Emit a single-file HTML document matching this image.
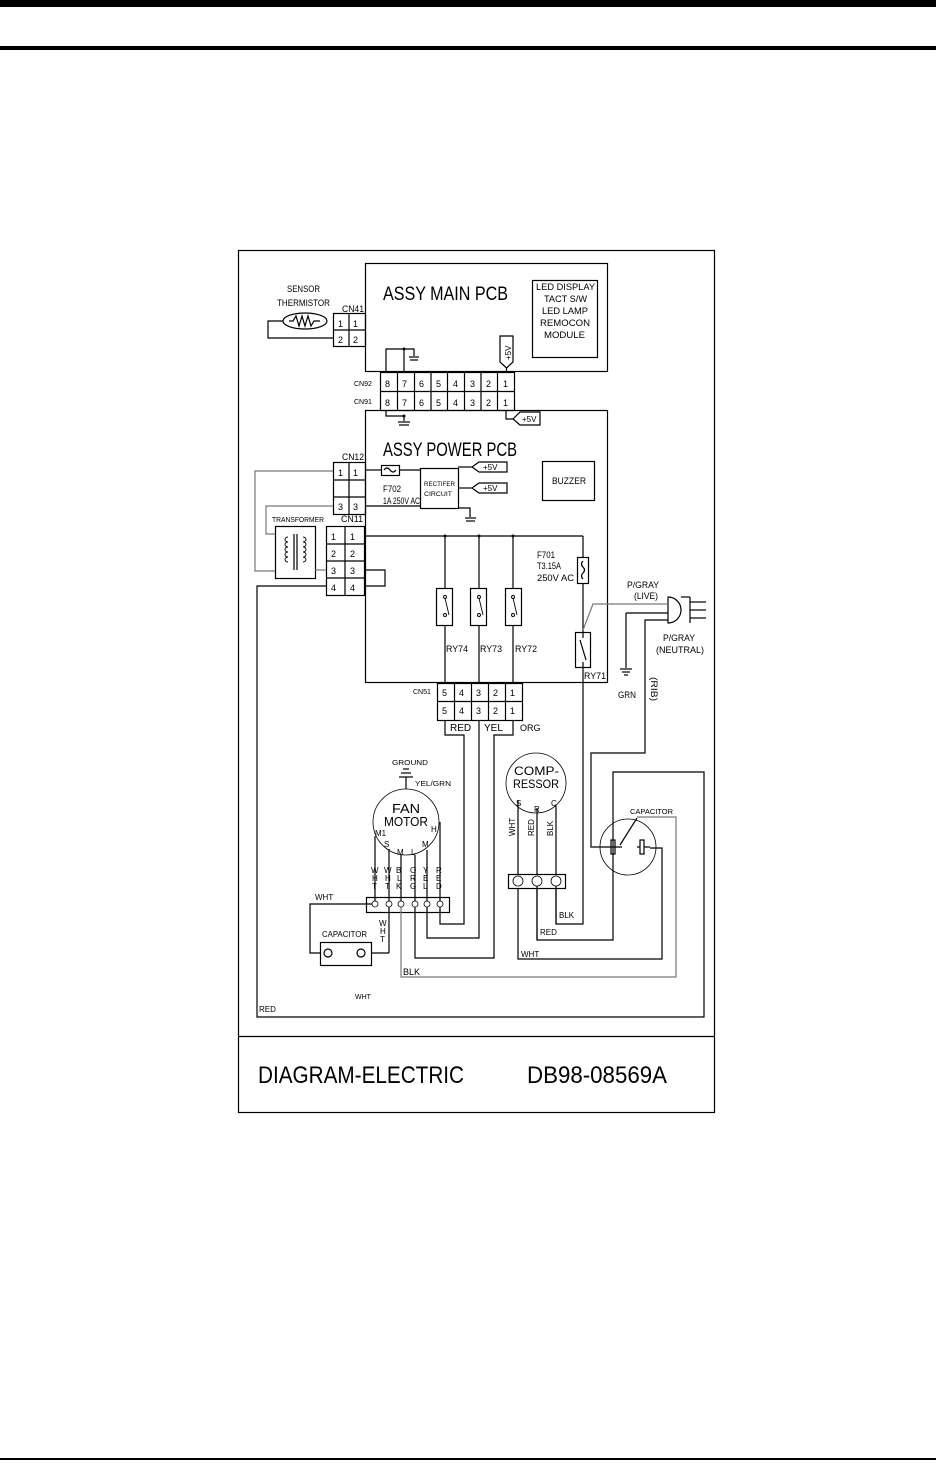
<!DOCTYPE html>
<html><head><meta charset="utf-8"><style>
html,body{margin:0;padding:0;background:#fff}
svg{display:block}
text{font-family:"Liberation Sans",sans-serif;fill:#000}
</style></head><body>
<svg width="936" height="1465" viewBox="0 0 936 1465" xmlns="http://www.w3.org/2000/svg">
<rect x="0" y="0" width="936" height="7" fill="#000"/>
<rect x="0" y="46" width="936" height="4" fill="#000"/>
<rect x="0" y="1458" width="936" height="2" fill="#000"/>

<g fill="none" stroke="#000" stroke-width="1.2">
<rect x="238.5" y="250.5" width="476" height="862"/>
<line x1="238" y1="1036.5" x2="714" y2="1036.5"/>
<rect x="365.5" y="263.5" width="242" height="108"/>
<rect x="532.5" y="280.5" width="65" height="77"/>
<rect x="333.5" y="313.5" width="32" height="33"/>
<line x1="333" y1="330" x2="365" y2="330"/><line x1="349" y1="313" x2="349" y2="346"/>
<ellipse cx="305" cy="321" rx="22" ry="8"/>
<polyline points="289,321 293,321 296,316 299,326 302,316 305,326 308,316 311,326 314,321 320,321"/>
<polyline points="283,321 268,321 268,338 333,338"/>
<polyline points="386,372 386,349 414,349 414,356"/>
<line x1="404" y1="349" x2="404" y2="372"/>
<line x1="409" y1="357" x2="419" y2="357"/><line x1="410" y1="360" x2="418" y2="360"/>
<polygon points="500,336 513,336 513,362 506.5,368 500,362"/>
<line x1="506.5" y1="368" x2="506.5" y2="372"/>
<rect x="380.5" y="372.5" width="134" height="38"/>
<line x1="380" y1="391.5" x2="514" y2="391.5"/>
<line x1="397.5" y1="372" x2="397.5" y2="411"/><line x1="414.5" y1="372" x2="414.5" y2="411"/><line x1="431" y1="372" x2="431" y2="411"/><line x1="447.5" y1="372" x2="447.5" y2="411"/><line x1="464.5" y1="372" x2="464.5" y2="411"/><line x1="481" y1="372" x2="481" y2="411"/><line x1="497.5" y1="372" x2="497.5" y2="411"/>
<rect x="365.5" y="410.5" width="242" height="272"/>
<polyline points="386,411 386,416 404,416 404,421"/>
<line x1="398" y1="422" x2="410" y2="422"/><line x1="399" y1="425" x2="409" y2="425"/>
<polyline points="506,411 506,419 513,419"/>
<polygon points="513,419 520,412 540,412 540,425 520,425"/>
<rect x="333.5" y="462.5" width="32" height="52"/>
<line x1="333" y1="480" x2="365" y2="480"/><line x1="333" y1="497" x2="365" y2="497"/><line x1="349" y1="462" x2="349" y2="515"/>
<line x1="365" y1="470" x2="381" y2="470"/>
<rect x="381.5" y="465.5" width="18" height="10"/>
<path d="M384,470 q3,-4 6,0 t6,0"/>
<line x1="400" y1="470" x2="420" y2="470"/>
<rect x="420.5" y="468.5" width="38" height="40"/>
<line x1="458" y1="467" x2="472" y2="467"/><line x1="458" y1="488" x2="472" y2="488"/>
<polygon points="472,467 479,462 507,462 507,472 479,472"/>
<polygon points="472,488 479,483 507,483 507,493 479,493"/>
<line x1="365" y1="506" x2="420" y2="506"/>
<polyline points="458,508 470,508 470,517"/>
<line x1="465" y1="518" x2="476" y2="518"/><line x1="466" y1="521" x2="475" y2="521"/>
<rect x="542.5" y="461.5" width="52" height="39"/>
<rect x="275.5" y="526.5" width="40" height="52"/>
<line x1="294" y1="534" x2="294" y2="570"/><line x1="297" y1="534" x2="297" y2="570"/>
<rect x="326.5" y="526.5" width="38" height="69"/>
<line x1="326" y1="544" x2="364" y2="544"/><line x1="326" y1="561" x2="364" y2="561"/><line x1="326" y1="578" x2="364" y2="578"/><line x1="345" y1="526" x2="345" y2="595"/>
<polyline points="364,570 385,570 385,586 364,586"/>
<polyline points="326,586 257,586 257,1017 704,1017 704,772 613,772 613,940 537,940 537,881"/>
<line x1="364" y1="536" x2="583" y2="536"/>
<line x1="583" y1="536" x2="583" y2="557"/>
<rect x="577.5" y="557.5" width="11" height="26"/>
<path d="M583,561 q-3,3 0,6 t0,6 t0,6"/>
<polyline points="583,584 583,632"/>
<rect x="575.5" y="632.5" width="15" height="35"/>
<line x1="583" y1="632" x2="583" y2="638"/><line x1="580" y1="640" x2="586" y2="660"/><line x1="583" y1="662" x2="583" y2="667"/>
<polyline points="583,667 583,924 556,924 556,881"/>
<rect x="436.5" y="588.5" width="16" height="37"/><rect x="470.5" y="588.5" width="16" height="37"/><rect x="505.5" y="588.5" width="16" height="37"/>
<line x1="445" y1="536" x2="445" y2="588"/><line x1="479" y1="536" x2="479" y2="588"/><line x1="513" y1="536" x2="513" y2="588"/>
<line x1="445" y1="625" x2="445" y2="683"/><line x1="479" y1="625" x2="479" y2="683"/><line x1="513" y1="625" x2="513" y2="683"/>
<rect x="437.5" y="683.5" width="85" height="37"/>
<line x1="437" y1="701.5" x2="522" y2="701.5"/>
<line x1="454.5" y1="683" x2="454.5" y2="720"/><line x1="471.5" y1="683" x2="471.5" y2="720"/><line x1="488.5" y1="683" x2="488.5" y2="720"/><line x1="505.5" y1="683" x2="505.5" y2="720"/>
<polyline points="445,720 445,735 464,735 464,924 440,924 440,904"/>
<polyline points="479,720 479,938 427,938 427,904"/>
<polyline points="513,720 513,735 494,735 494,958 415,958 415,904"/>
<line x1="626" y1="613" x2="668" y2="613"/>
<polyline points="626,613 626,668"/>
<line x1="620" y1="669" x2="632" y2="669"/><line x1="622" y1="672" x2="630" y2="672"/><line x1="624" y1="675" x2="628" y2="675"/>
<path d="M668,597 a13,13 0 0 1 0,26 z" />
<line x1="681" y1="597" x2="690" y2="597"/><line x1="690" y1="597" x2="690" y2="623"/>
<line x1="690" y1="602" x2="706" y2="602"/><line x1="690" y1="610" x2="706" y2="610"/><line x1="690" y1="618" x2="706" y2="618"/>
<polyline points="668,620 645,620 645,753 591,753 591,847 605,847"/>
<circle cx="406" cy="822" r="33" stroke-width="0.8"/>
<line x1="406" y1="777" x2="406" y2="789"/>
<line x1="399" y1="777" x2="413" y2="777"/><line x1="401" y1="773" x2="411" y2="773"/><line x1="403" y1="769" x2="409" y2="769"/>
<line x1="375" y1="836" x2="375" y2="904"/><line x1="389" y1="849" x2="389" y2="953"/><line x1="401" y1="855" x2="401" y2="904"/><line x1="415" y1="855" x2="415" y2="904"/><line x1="427" y1="850" x2="427" y2="904"/><line x1="440" y1="822" x2="440" y2="904"/>
<rect x="366.5" y="897.5" width="83" height="15"/>
<polyline points="375,904 310,904 310,953 320,953"/>
<rect x="320.5" y="942.5" width="51" height="23"/>
<circle cx="328" cy="953" r="4" fill="#fff"/><circle cx="361" cy="953" r="4" fill="#fff"/>
<polyline points="371,953 389,953"/>
<circle cx="536" cy="783" r="30" stroke-width="0.8"/>
<line x1="518" y1="800" x2="518" y2="874"/><line x1="537" y1="808" x2="537" y2="874"/><line x1="556" y1="806" x2="556" y2="874"/>
<rect x="508.5" y="874.5" width="57" height="14"/>
<polyline points="518,888 518,959 662,959 662,848 650,848"/>
<line x1="537" y1="888" x2="537" y2="940"/><line x1="556" y1="888" x2="556" y2="924"/>
<circle cx="628" cy="847" r="28" stroke-width="0.8"/>
<rect x="611" y="840" width="4" height="14"/><line x1="605" y1="847" x2="622" y2="847"/>
<rect x="640" y="840" width="4" height="14"/><line x1="644" y1="847" x2="650" y2="847"/><line x1="637" y1="847" x2="640" y2="847"/>
<line x1="620" y1="845" x2="637" y2="818"/>
</g>
<!-- relay contacts -->
<g fill="none" stroke="#000" stroke-width="0.9">
<circle cx="445" cy="597" r="1.5"/><circle cx="445" cy="615" r="1.5"/><line x1="445" y1="598" x2="449" y2="615"/>
<circle cx="479" cy="597" r="1.5"/><circle cx="479" cy="615" r="1.5"/><line x1="479" y1="598" x2="483" y2="615"/>
<circle cx="513" cy="597" r="1.5"/><circle cx="513" cy="615" r="1.5"/><line x1="513" y1="598" x2="517" y2="615"/>
<path d="M288,537 a3,2.5 0 1 0 0,5 a3,2.5 0 1 0 0,5 a3,2.5 0 1 0 0,5 a3,2.5 0 1 0 0,5 a3,2.5 0 1 0 0,5"/>
<path d="M303,537 a3,2.5 0 1 1 0,5 a3,2.5 0 1 1 0,5 a3,2.5 0 1 1 0,5 a3,2.5 0 1 1 0,5 a3,2.5 0 1 1 0,5"/>
</g>
<g fill="none" stroke="#777" stroke-width="1.2">
<polyline points="333,471 255,471 255,571 275,571"/>
<polyline points="333,506 266,506 266,534 275,534"/>
<line x1="315" y1="570" x2="326" y2="570"/>
<polyline points="583,630 593,604 668,604"/>
<polyline points="401,904 401,977 676,977 676,817 637,817"/>
</g>
<g fill="#000">
<circle cx="445" cy="536" r="1.5"/><circle cx="479" cy="536" r="1.5"/><circle cx="513" cy="536" r="1.5"/><circle cx="404" cy="349" r="1.5"/><circle cx="404" cy="416" r="1.5"/>
</g>
<g fill="#fff" stroke="#000" stroke-width="0.8">
<circle cx="375" cy="904" r="3"/><circle cx="389" cy="904" r="3"/><circle cx="401" cy="904" r="3"/><circle cx="415" cy="904" r="3"/><circle cx="427" cy="904" r="3"/><circle cx="440" cy="904" r="3"/>
<circle cx="518" cy="881" r="5"/><circle cx="537" cy="881" r="5"/><circle cx="556" cy="881" r="5"/>
</g>

<g font-size="9">
<text x="287" y="292" textLength="33" lengthAdjust="spacingAndGlyphs">SENSOR</text>
<text x="277" y="306" textLength="53" lengthAdjust="spacingAndGlyphs">THERMISTOR</text>
<text x="342" y="312" textLength="22" lengthAdjust="spacingAndGlyphs">CN41</text>
<text x="338" y="327">1</text><text x="353" y="327">1</text><text x="338" y="343">2</text><text x="353" y="343">2</text>
<text x="354" y="386" font-size="7">CN92</text><text x="354" y="404" font-size="7">CN91</text>
<text x="385" y="387">8</text><text x="402" y="387">7</text><text x="419" y="387">6</text><text x="436" y="387">5</text><text x="453" y="387">4</text><text x="470" y="387">3</text><text x="486" y="387">2</text><text x="503" y="387">1</text>
<text x="385" y="406">8</text><text x="402" y="406">7</text><text x="419" y="406">6</text><text x="436" y="406">5</text><text x="453" y="406">4</text><text x="470" y="406">3</text><text x="486" y="406">2</text><text x="503" y="406">1</text>
<text x="511" y="360" transform="rotate(-90 511 360)" font-size="8">+5V</text>
<text x="522" y="422" font-size="8">+5V</text>
<text x="483" y="470" font-size="8">+5V</text><text x="483" y="491" font-size="8">+5V</text>
<text x="536" y="290" textLength="59" lengthAdjust="spacingAndGlyphs">LED DISPLAY</text>
<text x="544" y="302" textLength="43" lengthAdjust="spacingAndGlyphs">TACT S/W</text>
<text x="542" y="314" textLength="46" lengthAdjust="spacingAndGlyphs">LED LAMP</text>
<text x="540" y="326" textLength="50" lengthAdjust="spacingAndGlyphs">REMOCON</text>
<text x="544" y="338" textLength="41" lengthAdjust="spacingAndGlyphs">MODULE</text>
<text x="552" y="484" textLength="34" lengthAdjust="spacingAndGlyphs">BUZZER</text>
<text x="342" y="460" textLength="22" lengthAdjust="spacingAndGlyphs">CN12</text>
<text x="338" y="476">1</text><text x="353" y="476">1</text><text x="338" y="510">3</text><text x="353" y="510">3</text>
<text x="383" y="492" textLength="18" lengthAdjust="spacingAndGlyphs">F702</text>
<text x="383" y="504" textLength="37" lengthAdjust="spacingAndGlyphs">1A 250V AC</text>
<text x="424" y="486" font-size="6.5" textLength="31" lengthAdjust="spacingAndGlyphs">RECTIFER</text>
<text x="424" y="496" font-size="6.5" textLength="28" lengthAdjust="spacingAndGlyphs">CIRCUIT</text>
<text x="272" y="522" font-size="7" textLength="52" lengthAdjust="spacingAndGlyphs">TRANSFORMER</text>
<text x="341" y="522" textLength="22" lengthAdjust="spacingAndGlyphs">CN11</text>
<text x="331" y="540">1</text><text x="350" y="540">1</text><text x="331" y="557">2</text><text x="350" y="557">2</text><text x="331" y="574">3</text><text x="350" y="574">3</text><text x="331" y="591">4</text><text x="350" y="591">4</text>
<text x="537" y="558" textLength="18" lengthAdjust="spacingAndGlyphs">F701</text>
<text x="537" y="569" textLength="24" lengthAdjust="spacingAndGlyphs">T3.15A</text>
<text x="537" y="581" textLength="37" lengthAdjust="spacingAndGlyphs">250V AC</text>
<text x="446" y="652" textLength="22" lengthAdjust="spacingAndGlyphs">RY74</text>
<text x="480" y="652" textLength="22" lengthAdjust="spacingAndGlyphs">RY73</text>
<text x="515" y="652" textLength="22" lengthAdjust="spacingAndGlyphs">RY72</text>
<text x="584" y="679" textLength="22" lengthAdjust="spacingAndGlyphs">RY71</text>
<text x="627" y="588" textLength="32" lengthAdjust="spacingAndGlyphs">P/GRAY</text>
<text x="634" y="599" textLength="24" lengthAdjust="spacingAndGlyphs">(LIVE)</text>
<text x="663" y="641" textLength="32" lengthAdjust="spacingAndGlyphs">P/GRAY</text>
<text x="656" y="653" textLength="48" lengthAdjust="spacingAndGlyphs">(NEUTRAL)</text>
<text x="618" y="698" textLength="18" lengthAdjust="spacingAndGlyphs">GRN</text>
<text x="651" y="677" transform="rotate(90 651 677)" textLength="24" lengthAdjust="spacingAndGlyphs">(RIB)</text>
<text x="413" y="694" font-size="7">CN51</text>
<text x="442" y="696">5</text><text x="459" y="696">4</text><text x="476" y="696">3</text><text x="493" y="696">2</text><text x="510" y="696">1</text>
<text x="442" y="714">5</text><text x="459" y="714">4</text><text x="476" y="714">3</text><text x="493" y="714">2</text><text x="510" y="714">1</text>
<text x="450" y="731" font-size="10">RED</text><text x="484" y="731" font-size="10">YEL</text><text x="520" y="731" font-size="9">ORG</text>
<text x="392" y="765" font-size="7.5" textLength="36" lengthAdjust="spacingAndGlyphs">GROUND</text>
<text x="415" y="786" font-size="7.5" textLength="36" lengthAdjust="spacingAndGlyphs">YEL/GRN</text>
<text x="392" y="813" font-size="13" textLength="28" lengthAdjust="spacingAndGlyphs">FAN</text>
<text x="384" y="826" font-size="13" textLength="44" lengthAdjust="spacingAndGlyphs">MOTOR</text>
<text x="375" y="836" font-size="8">M1</text><text x="431" y="832" font-size="8">H</text>
<text x="384" y="847" font-size="8">S</text><text x="397" y="855" font-size="8">M</text><text x="411" y="855" font-size="8">L</text><text x="422" y="847" font-size="8">M</text>
<g font-size="8">
<text x="371" y="873">W</text><text x="372" y="881">H</text><text x="372" y="889">T</text>
<text x="384" y="873">W</text><text x="385" y="881">H</text><text x="385" y="889">T</text>
<text x="396" y="873">B</text><text x="397" y="881">L</text><text x="396" y="889">K</text>
<text x="410" y="873">O</text><text x="410" y="881">R</text><text x="410" y="889">G</text>
<text x="423" y="873">Y</text><text x="423" y="881">E</text><text x="423" y="889">L</text>
<text x="436" y="873">R</text><text x="436" y="881">E</text><text x="436" y="889">D</text>
<text x="379" y="926">W</text><text x="380" y="934">H</text><text x="380" y="942">T</text>
</g>
<text x="315" y="900" font-size="8">WHT</text>
<text x="322" y="937" font-size="8" textLength="45" lengthAdjust="spacingAndGlyphs" font-family="Liberation Serif">CAPACITOR</text>
<text x="403" y="975" font-size="9">BLK</text>
<text x="355" y="999" font-size="7">WHT</text>
<text x="259" y="1012" font-size="8">RED</text>
<text x="514" y="775" font-size="12" textLength="45" lengthAdjust="spacingAndGlyphs">COMP-</text>
<text x="513" y="788" font-size="12" textLength="46" lengthAdjust="spacingAndGlyphs">RESSOR</text>
<text x="516" y="806" font-size="8">S</text><text x="534" y="812" font-size="8">R</text><text x="551" y="806" font-size="8">C</text>
<text x="515" y="836" font-size="8" transform="rotate(-90 515 836)">WHT</text>
<text x="534" y="836" font-size="8" transform="rotate(-90 534 836)">RED</text>
<text x="553" y="836" font-size="8" transform="rotate(-90 553 836)">BLK</text>
<text x="559" y="918" font-size="8">BLK</text>
<text x="540" y="935" font-size="8">RED</text>
<text x="521" y="957" font-size="8">WHT</text>
<text x="630" y="814" font-size="7" textLength="43" lengthAdjust="spacingAndGlyphs">CAPACITOR</text>
</g>
<text x="383" y="300" font-size="19" textLength="125" lengthAdjust="spacingAndGlyphs">ASSY MAIN PCB</text>
<text x="383" y="456" font-size="19" textLength="134" lengthAdjust="spacingAndGlyphs">ASSY POWER PCB</text>
<text x="258" y="1083" font-size="24" textLength="206" lengthAdjust="spacingAndGlyphs">DIAGRAM-ELECTRIC</text>
<text x="527" y="1083" font-size="24" textLength="140" lengthAdjust="spacingAndGlyphs">DB98-08569A</text>
</svg>
</body></html>
